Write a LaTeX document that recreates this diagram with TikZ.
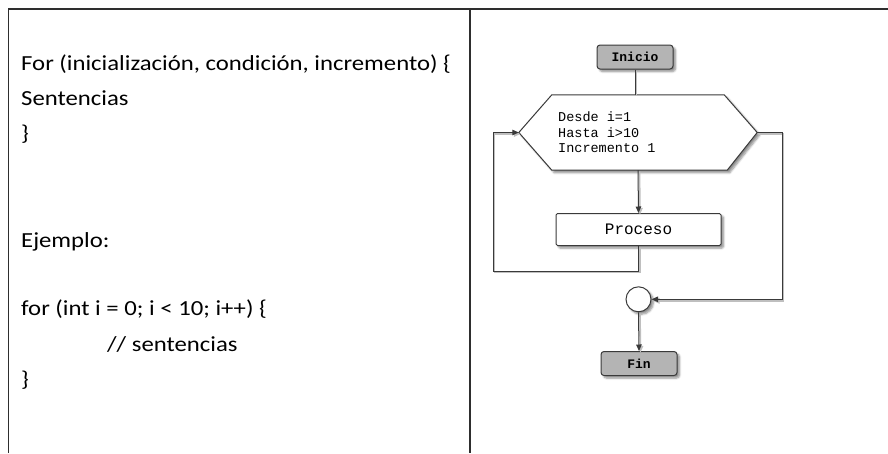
\documentclass[tikz,border=0pt]{standalone}
\usepackage{fontspec}
\setmainfont{Carlito}
\newfontfamily\bodyfont[FakeStretch=1.15]{Carlito}
\newfontfamily\codefont{Liberation Mono}
\usetikzlibrary{arrows.meta,shadows,shadows.blur}
\definecolor{linec}{HTML}{3A3A3A}
\definecolor{termfill}{HTML}{B4B4B4}
\definecolor{rulec}{HTML}{2E2E2E}
\tikzset{
  rulel/.style={draw=rulec, line width=1.4pt},
  txt/.style={anchor=base west, inner sep=0pt, font=\bodyfont\fontsize{21.5}{25}\selectfont},
  boxshadow/.style={blur shadow={shadow xshift=2.5pt, shadow yshift=-2.5pt, shadow blur radius=2pt, shadow blur steps=6, shadow opacity=45}},
  terminal/.style={draw=linec, line width=1pt, fill=termfill, rounded corners=3pt,
    minimum width=76pt, minimum height=24pt, inner sep=0pt, boxshadow,
    font=\codefont\bfseries\fontsize{13}{15}\selectfont},
  procbox/.style={draw=linec, line width=1pt, fill=white, rounded corners=1.5pt,
    minimum width=165pt, minimum height=32pt, inner sep=0pt, boxshadow,
    font=\codefont\fontsize{16}{18}\selectfont},
  junction/.style={circle, draw=linec, line width=1pt, fill=white, minimum size=25pt, inner sep=0pt, boxshadow},
  flow/.style={draw=linec, line width=1pt,
    preaction={draw=black!25, line width=1.6pt, transform canvas={shift={(1.5pt,-1.5pt)}}}},
  arrowed/.style={flow, -{Triangle[length=6.5pt,width=5.5pt]}},
}
\begin{document}
\begin{tikzpicture}[x=1pt,y=-1pt]
\useasboundingbox (0,0) rectangle (888,453);
% table frame
\draw[rulel] (8.5,453) -- (8.5,9) -- (888,9);
\draw[rulel] (470,9) -- (470,453);
% left column text
\node[txt] (t1) at (21,70) {For (inicialización, condición, incremento) \{};
\node[txt] (t2) at (21,105) {Sentencias};
\node[txt] (t3) at (21,140) {\}};
\node[txt] (t4) at (21,247) {Ejemplo:};
\node[txt] (t5) at (21,315) {for (int i = 0; i < 10; i++) \{};
\node[txt] (t6) at (107,351) {// sentencias};
\node[txt] (t7) at (21,386) {\}};
% flowchart
\node[terminal] (ini) at (635,57) {Inicio};
\node[minimum width=238pt, minimum height=75pt, inner sep=0pt] (loop) at (638,132.5) {};
\draw[draw=linec, line width=1pt, fill=white, boxshadow]
  (loop.west) -- ([xshift=33pt]loop.north west) -- ([xshift=-33pt]loop.north east)
  -- (loop.east) -- ([xshift=-30pt]loop.south east) -- ([xshift=33pt]loop.south west) -- cycle;
\node[anchor=west, align=left, inner sep=0pt, font=\codefont\fontsize{13.5}{15.5}\selectfont] (cond) at (558,132.5)
  {Desde i=1\\Hasta i>10\\Incremento 1};
\node[procbox] (proc) at (638.5,229.5) {Proceso};
\node[junction] (junc) at (638.5,299.3) {};
\node[terminal] (fin) at (639,363.5) {Fin};
\coordinate (lb) at (493,271);
\coordinate (rb) at (782,299.3);
% connectors
\draw[flow] (ini.south) -- (ini.south |- loop.north);
\draw[arrowed] (loop.south) -- (proc.north);
\draw[arrowed] (proc.south) |- (lb) |- (loop.west);
\draw[arrowed] (loop.east) -| (rb) -- (junc.east);
\draw[arrowed] (junc.south) -- (fin.north);
\end{tikzpicture}
\end{document}
